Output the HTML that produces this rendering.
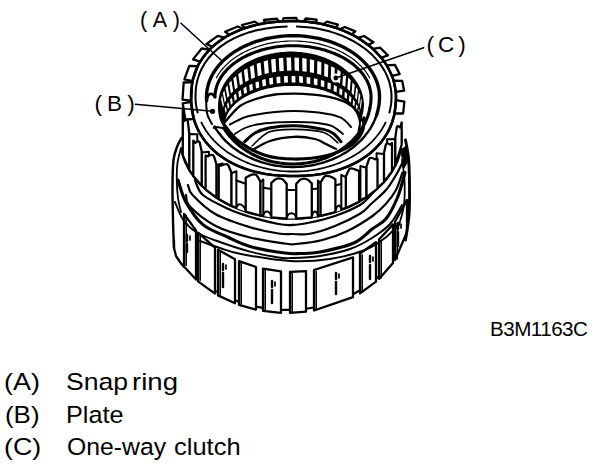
<!DOCTYPE html>
<html><head><meta charset="utf-8"><style>
html,body{margin:0;padding:0;background:#fff;}
body{width:608px;height:466px;position:relative;overflow:hidden;font-family:"Liberation Sans",sans-serif;color:#000;}
.t{position:absolute;white-space:pre;line-height:1;transform-origin:0 0;}
.lab{font-size:21.5px;letter-spacing:5.7px;}
.leg{font-size:24.5px;}
svg{position:absolute;left:0;top:0;}
</style></head><body>
<svg width="608" height="466" viewBox="0 0 608 466" stroke-linejoin="round" stroke-linecap="round">
<path d="M196.0,276.5 L198.0,278.3" fill="none" stroke="#000" stroke-width="2.16"/>
<path d="M215.0,290.6 L218.0,292.4" fill="none" stroke="#000" stroke-width="2.16"/>
<path d="M235.0,300.3 L239.0,301.8" fill="none" stroke="#000" stroke-width="2.16"/>
<path d="M256.0,306.6 L263.0,307.9" fill="none" stroke="#000" stroke-width="2.16"/>
<path d="M281.0,309.8 L290.0,309.9" fill="none" stroke="#000" stroke-width="2.16"/>
<path d="M306.0,308.7 L314.0,307.5" fill="none" stroke="#000" stroke-width="2.16"/>
<path d="M353.0,294.2 L360.0,290.3" fill="none" stroke="#000" stroke-width="2.16"/>
<path d="M376.0,278.7 L379.0,276.0" fill="none" stroke="#000" stroke-width="2.16"/>
<path d="M393.0,260.0 L395.0,257.0" fill="none" stroke="#000" stroke-width="2.16"/>
<path d="M184.0,214.0 L196.0,230.4 L196.0,279.5 L184.0,266.5 Z" fill="#fff" stroke="#000" stroke-width="2.28"/>
<path d="M186.2,215.5 L186.2,265.5" fill="none" stroke="#000" stroke-width="1.56"/>
<path d="M198.0,232.6 L215.0,247.6 L215.0,293.6 L198.0,281.3 Z" fill="#fff" stroke="#000" stroke-width="2.28"/>
<path d="M200.2,234.1 L200.2,280.3" fill="none" stroke="#000" stroke-width="1.56"/>
<path d="M218.0,249.7 L235.0,259.3 L235.0,303.3 L218.0,295.4 Z" fill="#fff" stroke="#000" stroke-width="2.28"/>
<path d="M220.2,251.2 L220.2,294.4" fill="none" stroke="#000" stroke-width="1.56"/>
<path d="M239.0,261.1 L256.0,267.0 L256.0,309.6 L239.0,304.8 Z" fill="#fff" stroke="#000" stroke-width="2.28"/>
<path d="M241.2,262.6 L241.2,303.8" fill="none" stroke="#000" stroke-width="1.56"/>
<path d="M263.0,268.7 L281.0,271.4 L281.0,312.8 L263.0,310.9 Z" fill="#fff" stroke="#000" stroke-width="2.28"/>
<path d="M265.2,270.2 L265.2,309.9" fill="none" stroke="#000" stroke-width="1.56"/>
<path d="M290.0,271.8 L306.0,271.1 L306.0,311.7 L290.0,312.9 Z" fill="#fff" stroke="#000" stroke-width="2.28"/>
<path d="M292.2,273.3 L292.2,311.9" fill="none" stroke="#000" stroke-width="1.56"/>
<path d="M314.0,270.0 L353.0,257.3 L353.0,297.2 L314.0,310.5 Z" fill="#fff" stroke="#000" stroke-width="2.28"/>
<path d="M316.2,271.5 L316.2,309.5" fill="none" stroke="#000" stroke-width="1.56"/>
<path d="M360.0,253.5 L376.0,242.1 L376.0,281.7 L360.0,293.3 Z" fill="#fff" stroke="#000" stroke-width="2.28"/>
<path d="M362.2,255.0 L362.2,292.3" fill="none" stroke="#000" stroke-width="1.56"/>
<path d="M379.0,239.5 L393.0,224.4 L393.0,263.0 L379.0,279.0 Z" fill="#fff" stroke="#000" stroke-width="2.28"/>
<path d="M381.2,241.0 L381.2,278.0" fill="none" stroke="#000" stroke-width="1.56"/>
<path d="M395.0,221.7 L407.0,199.9 L407.0,232.0 L395.0,260.0 Z" fill="#fff" stroke="#000" stroke-width="2.28"/>
<path d="M397.2,223.2 L397.2,259.0" fill="none" stroke="#000" stroke-width="1.56"/>
<path d="M174.0,240.0 L174.0,248.0 L176.0,256.0 L180.0,262.0 L184.0,267.0" fill="none" stroke="#000" stroke-width="2.28"/>
<path d="M187.0,235.0 L187.0,241.0" fill="none" stroke="#000" stroke-width="2.40"/>
<path d="M187.0,244.0 L187.0,252.0" fill="none" stroke="#000" stroke-width="2.40"/>
<path d="M190.0,236.0 L190.0,240.0" fill="none" stroke="#000" stroke-width="1.68"/>
<path d="M223.0,264.0 L223.0,270.0" fill="none" stroke="#000" stroke-width="2.40"/>
<path d="M223.0,273.0 L223.0,287.0" fill="none" stroke="#000" stroke-width="2.40"/>
<path d="M226.0,265.0 L226.0,269.0" fill="none" stroke="#000" stroke-width="1.68"/>
<path d="M272.0,281.0 L272.0,287.0" fill="none" stroke="#000" stroke-width="2.40"/>
<path d="M272.0,290.0 L272.0,303.0" fill="none" stroke="#000" stroke-width="2.40"/>
<path d="M275.0,282.0 L275.0,286.0" fill="none" stroke="#000" stroke-width="1.68"/>
<path d="M336.0,273.0 L336.0,279.0" fill="none" stroke="#000" stroke-width="2.40"/>
<path d="M336.0,282.0 L336.0,294.0" fill="none" stroke="#000" stroke-width="2.40"/>
<path d="M339.0,274.0 L339.0,278.0" fill="none" stroke="#000" stroke-width="1.68"/>
<path d="M370.0,256.0 L370.0,262.0" fill="none" stroke="#000" stroke-width="2.40"/>
<path d="M370.0,265.0 L370.0,279.0" fill="none" stroke="#000" stroke-width="2.40"/>
<path d="M373.0,257.0 L373.0,261.0" fill="none" stroke="#000" stroke-width="1.68"/>
<path d="M398.0,223.0 L398.0,229.0" fill="none" stroke="#000" stroke-width="2.40"/>
<path d="M398.0,232.0 L398.0,246.0" fill="none" stroke="#000" stroke-width="2.40"/>
<path d="M401.0,224.0 L401.0,228.0" fill="none" stroke="#000" stroke-width="1.68"/>
<path d="M195.0,180.0 C196.3,182.5 197.3,190.2 202.9,195.0 C208.5,199.8 220.9,205.4 228.6,209.0 C236.3,212.6 240.7,214.0 249.0,216.5 C257.3,219.0 271.3,222.6 278.5,224.0 C285.7,225.4 286.8,225.2 292.0,225.0 C297.2,224.8 302.8,224.0 310.0,222.5 C317.2,221.0 326.7,218.9 335.0,216.0 C343.3,213.1 354.2,208.3 360.0,205.0 C365.8,201.7 366.7,199.5 370.0,196.0 C373.3,192.5 378.3,186.0 380.0,184.0" fill="none" stroke="#000" stroke-width="2.28"/>
<path d="M188.0,185.0 C188.8,186.7 188.0,190.1 192.6,195.0 C197.2,199.9 206.1,208.9 215.7,214.3 C225.3,219.7 239.5,224.0 250.0,227.2 C260.5,230.4 271.5,232.4 278.5,233.5 C285.5,234.6 286.8,234.0 292.0,234.0 C297.2,234.0 302.8,235.1 310.0,233.8 C317.2,232.4 326.7,229.3 335.0,226.0 C343.3,222.7 354.0,217.4 360.0,213.8 C366.0,210.1 366.7,208.0 371.0,204.0 C375.3,200.0 381.8,194.8 386.0,190.0 C390.2,185.2 393.2,179.6 396.0,175.0 C398.8,170.4 401.4,164.6 402.5,162.5" fill="none" stroke="#000" stroke-width="2.16"/>
<path d="M186.0,195.0 C186.7,196.9 185.1,201.4 190.0,206.6 C194.9,211.8 205.7,220.8 215.7,226.0 C225.7,231.2 238.5,234.6 250.0,237.5 C261.5,240.4 277.1,242.4 284.8,243.5 C292.4,244.6 289.7,244.6 296.0,244.0 C302.3,243.4 313.9,242.2 322.5,240.0 C331.1,237.8 339.2,235.0 347.5,231.0 C355.8,227.0 366.1,220.5 372.5,216.0 C378.9,211.5 382.1,208.1 386.0,203.8 C389.9,199.4 393.2,195.2 396.0,190.0 C398.8,184.8 401.4,175.4 402.5,172.5" fill="none" stroke="#000" stroke-width="2.16"/>
<path d="M178.0,180.0 C179.3,183.7 181.7,194.6 185.8,202.0 C190.0,209.4 195.8,218.7 202.9,224.6 C210.0,230.5 220.8,233.8 228.6,237.5 C236.4,241.2 240.6,243.9 250.0,246.5 C259.4,249.1 276.4,251.8 284.8,253.0 C293.1,254.2 294.1,253.7 300.0,253.5 C305.9,253.3 311.0,253.8 320.0,252.0 C329.0,250.2 345.0,246.9 353.8,243.0 C362.5,239.1 367.1,232.8 372.5,228.8 C377.9,224.7 381.8,224.0 386.0,218.8 C390.2,213.5 394.3,205.2 397.5,197.5 C400.7,189.8 403.8,176.7 405.0,172.5" fill="none" stroke="#000" stroke-width="3.12"/>
<path d="M175.0,202.0 C176.3,204.9 179.5,214.5 183.0,219.5 C186.5,224.5 190.6,228.5 196.0,232.0 C201.4,235.5 206.7,237.2 215.7,240.5 C224.7,243.8 239.5,248.8 250.0,251.6 C260.5,254.4 271.5,256.4 278.5,257.5 C285.5,258.6 285.1,258.2 292.0,258.0 C298.9,257.8 310.3,257.5 320.0,256.0 C329.7,254.5 341.3,252.0 350.0,249.0 C358.7,246.0 365.3,242.2 372.0,238.0 C378.7,233.8 385.0,229.5 390.0,224.0 C395.0,218.5 400.0,208.2 402.0,205.0" fill="none" stroke="#000" stroke-width="1.92"/>
<path d="M200.0,241.0 C203.3,242.2 213.2,245.8 220.0,248.0 C226.8,250.2 229.3,251.8 241.0,254.0 C252.7,256.2 275.2,260.2 290.0,261.0 C304.8,261.8 317.5,260.8 330.0,259.0 C342.5,257.2 355.8,253.5 365.0,250.0 C374.2,246.5 379.5,242.2 385.0,238.0 C390.5,233.8 395.8,227.2 398.0,225.0" fill="none" stroke="#000" stroke-width="1.92"/>
<path d="M181.5,138.0 C180.8,139.5 178.3,143.3 177.0,147.0 C175.7,150.7 174.2,153.7 173.5,160.0 C172.8,166.3 172.6,175.0 172.5,185.0 C172.4,195.0 172.8,209.5 173.0,220.0 C173.2,230.5 173.8,243.3 174.0,248.0" fill="none" stroke="#000" stroke-width="2.40"/>
<path d="M181.0,148.0 C180.4,150.5 178.2,157.7 177.5,163.0 C176.8,168.3 176.7,174.2 176.8,180.0 C176.9,185.8 177.3,192.7 178.0,198.0 C178.7,203.3 180.5,209.7 181.0,212.0" fill="none" stroke="#000" stroke-width="1.80"/>
<path d="M405.5,140.0 C406.0,143.0 407.8,150.5 408.5,158.0 C409.2,165.5 409.4,175.5 409.5,185.0 C409.6,194.5 409.7,205.8 409.0,215.0 C408.3,224.2 406.1,235.8 405.5,240.0" fill="none" stroke="#000" stroke-width="2.88"/>
<path d="M401.0,150.0 L406.0,146.0 L409.0,160.0 L404.0,168.0 Z" fill="#000" stroke="#000" stroke-width="0.96"/>
<path d="M402.0,160.0 C402.4,163.3 404.2,172.5 404.5,180.0 C404.8,187.5 404.9,197.5 404.0,205.0 C403.1,212.5 399.8,221.7 399.0,225.0" fill="none" stroke="#000" stroke-width="1.80"/>
<path d="M181.2,148.9 L181.8,151.7 L182.5,154.5 L183.4,157.2 L184.4,160.0 L185.5,162.7 L186.8,165.3 L188.2,168.0 L189.7,170.6 L191.3,173.2 L193.1,175.7 L195.0,178.2 L197.0,180.6 L199.1,183.0 L201.3,185.3 L203.6,187.5 L206.1,189.7 L208.6,191.9 L211.3,193.9 L214.0,195.9 L216.8,197.9 L219.8,199.7 L222.8,201.5 L225.9,203.2 L229.0,204.8 L232.3,206.4 L235.6,207.8 L239.0,209.2 L242.4,210.5 L246.0,211.7 L249.5,212.8 L253.1,213.8 L256.8,214.7 L260.5,215.6 L264.2,216.3 L268.0,216.9 L271.8,217.5 L275.7,217.9 L279.5,218.3 L283.4,218.5 L287.2,218.7 L291.1,218.7 L295.0,218.7 L298.8,218.5 L302.7,218.3 L306.5,217.9 L310.4,217.5 L314.2,216.9 L318.0,216.3 L321.7,215.6 L325.4,214.7 L329.1,213.8 L332.7,212.8 L336.2,211.7 L339.8,210.5 L343.2,209.2 L346.6,207.8 L349.9,206.4 L353.2,204.8 L356.3,203.2 L359.4,201.5 L362.4,199.7 L365.4,197.9 L368.2,195.9 L370.9,193.9 L373.6,191.9 L376.1,189.7 L378.6,187.5 L380.9,185.3 L383.1,183.0 L385.2,180.6 L387.2,178.2 L389.1,175.7 L390.9,173.2 L392.5,170.6 L394.0,168.0 L395.4,165.3 L396.7,162.7 L397.8,160.0 L398.8,157.2 L399.7,154.5 L400.4,151.7 L401.0,148.9" fill="none" stroke="#000" stroke-width="2.28"/>
<path d="M395.3,138.9 L387.1,139.3 L387.1,177.3 L395.3,165.5 Z" fill="#fff" stroke="#000" stroke-width="2.04"/>
<path d="M395.3,165.5 L395.3,137.9 L396.7,127.6 Q397.3,124.8 400.3,127.6 L401.7,122.4 L401.7,144.5 Z" fill="#fff" stroke="#000" stroke-width="2.28"/>
<path d="M189.2,134.0 L197.3,134.3 L197.3,180.0 L189.2,169.8 Z" fill="#fff" stroke="#000" stroke-width="2.04"/>
<path d="M182.8,155.4 L182.8,108.2 L184.2,121.0 Q187.2,118.2 187.8,121.0 L189.2,133.0 L189.2,169.8 Z" fill="#fff" stroke="#000" stroke-width="2.28"/>
<path d="M384.0,153.9 L376.6,153.2 L376.6,188.3 L384.0,182.0 Z" fill="#fff" stroke="#000" stroke-width="2.04"/>
<path d="M384.0,182.0 L384.0,152.9 L385.8,144.7 Q386.6,141.9 390.2,144.7 L392.0,143.1 L392.0,171.4 Z" fill="#fff" stroke="#000" stroke-width="2.28"/>
<path d="M201.7,152.5 L208.9,151.7 L208.9,191.1 L201.7,185.7 Z" fill="#fff" stroke="#000" stroke-width="2.04"/>
<path d="M193.3,176.0 L193.3,140.6 L195.2,142.8 Q199.0,140.0 199.8,142.8 L201.7,151.5 L201.7,185.7 Z" fill="#fff" stroke="#000" stroke-width="2.28"/>
<path d="M216.4,165.1 L222.6,163.5 L222.6,200.4 L216.4,197.6 Z" fill="#fff" stroke="#000" stroke-width="2.04"/>
<path d="M205.6,189.3 L205.6,155.5 L208.0,156.3 Q212.9,153.5 214.0,156.3 L216.4,164.1 L216.4,197.6 Z" fill="#fff" stroke="#000" stroke-width="2.28"/>
<path d="M366.5,167.7 L360.4,166.0 L360.4,199.9 L366.5,197.1 Z" fill="#fff" stroke="#000" stroke-width="2.04"/>
<path d="M366.5,197.1 L366.5,166.7 L368.9,159.3 Q370.0,156.5 375.1,159.3 L377.5,159.0 L377.5,188.6 Z" fill="#fff" stroke="#000" stroke-width="2.28"/>
<path d="M231.3,173.3 L236.4,171.2 L236.4,207.2 L231.3,205.9 Z" fill="#fff" stroke="#000" stroke-width="2.04"/>
<path d="M218.7,199.1 L218.7,165.6 L221.5,165.5 Q227.3,162.7 228.5,165.5 L231.3,172.3 L231.3,205.9 Z" fill="#fff" stroke="#000" stroke-width="2.28"/>
<path d="M345.9,177.2 L341.3,174.9 L341.3,208.9 L345.9,208.1 Z" fill="#fff" stroke="#000" stroke-width="2.04"/>
<path d="M345.9,208.1 L345.9,176.2 L348.8,169.9 Q350.1,167.1 356.2,169.9 L359.1,170.8 L359.1,201.7 Z" fill="#fff" stroke="#000" stroke-width="2.28"/>
<path d="M260.3,182.3 L263.3,179.5 L263.3,215.1 L260.3,215.5 Z" fill="#fff" stroke="#000" stroke-width="2.04"/>
<path d="M245.7,211.6 L245.7,177.7 L248.9,175.9 Q255.6,173.1 257.1,175.9 L260.3,181.3 L260.3,215.5 Z" fill="#fff" stroke="#000" stroke-width="2.28"/>
<path d="M320.6,183.3 L317.9,180.5 L317.9,215.3 L320.6,215.8 Z" fill="#fff" stroke="#000" stroke-width="2.04"/>
<path d="M320.6,215.8 L320.6,182.3 L323.9,177.2 Q325.3,174.4 332.1,177.2 L335.4,179.4 L335.4,212.0 Z" fill="#fff" stroke="#000" stroke-width="2.28"/>
<path d="M271.3,217.4 L271.3,182.9 L274.7,179.8 Q279.0,177.0 283.3,179.8 L286.7,183.9 L286.7,218.6 Z" fill="#fff" stroke="#000" stroke-width="2.28"/>
<path d="M296.2,218.6 L296.2,184.0 L299.7,180.0 Q304.0,177.2 308.3,180.0 L311.8,183.3 L311.8,217.3 Z" fill="#fff" stroke="#000" stroke-width="2.28"/>
<path d="M236.4,180.5 L245.7,183.7" fill="none" stroke="#000" stroke-width="2.04"/>
<path d="M236.4,208.2 C237.4,201.2 244.7,204.6 245.7,211.6" fill="#fff" stroke="#000" stroke-width="2.04"/>
<path d="M263.3,187.8 L271.3,188.9" fill="none" stroke="#000" stroke-width="2.04"/>
<path d="M263.3,216.1 C264.3,209.1 270.3,210.4 271.3,217.4" fill="#fff" stroke="#000" stroke-width="2.04"/>
<path d="M286.7,189.9 L296.2,190.0" fill="none" stroke="#000" stroke-width="2.04"/>
<path d="M286.7,218.6 C287.7,211.6 295.2,211.6 296.2,218.6" fill="#fff" stroke="#000" stroke-width="2.04"/>
<path d="M311.8,189.3 L317.9,188.6" fill="none" stroke="#000" stroke-width="2.04"/>
<path d="M311.8,217.3 C312.8,210.3 316.9,209.3 317.9,216.3" fill="#fff" stroke="#000" stroke-width="2.04"/>
<path d="M335.4,185.4 L341.3,183.7" fill="none" stroke="#000" stroke-width="2.04"/>
<path d="M335.4,212.0 C336.4,205.0 340.3,202.9 341.3,209.9" fill="#fff" stroke="#000" stroke-width="2.04"/>
<path d="M396.0,97.0 L395.9,94.3 L395.8,91.7 L395.4,89.1 L395.0,86.4 L394.4,83.8 L393.8,81.2 L393.0,78.6 L392.0,76.1 L391.0,73.5 L389.8,71.0 L388.5,68.5 L387.1,66.1 L385.6,63.7 L384.0,61.3 L382.3,59.0 L380.4,56.7 L378.5,54.5 L376.4,52.3 L374.3,50.2 L372.0,48.1 L369.7,46.1 L367.2,44.2 L364.7,42.3 L362.1,40.5 L359.4,38.8 L356.6,37.1 L353.7,35.5 L350.8,34.0 L347.8,32.5 L344.8,31.2 L341.6,29.9 L338.4,28.7 L335.2,27.6 L331.9,26.5 L328.6,25.6 L325.2,24.7 L321.8,23.9 L318.3,23.3 L314.8,22.7 L311.3,22.2 L307.8,21.7 L304.2,21.4 L300.7,21.2 L297.1,21.0 L293.5,21.0 L288.6,21.0 L284.4,21.2 L280.3,21.4 L276.4,21.7 L272.6,22.1 L268.9,22.5 L265.3,23.1 L261.7,23.7 L258.3,24.4 L254.9,25.2 L251.5,26.0 L248.3,27.0 L245.1,28.0 L242.0,29.1 L238.9,30.3 L236.0,31.6 L233.1,32.9 L230.3,34.3 L227.5,35.8 L224.9,37.4 L222.4,39.0 L219.9,40.7 L217.5,42.4 L215.2,44.3 L213.1,46.1 L211.0,48.1 L209.0,50.1 L207.1,52.2 L205.3,54.3 L203.6,56.5 L202.0,58.8 L200.5,61.1 L199.1,63.5 L197.8,65.9 L196.6,68.3 L195.6,70.9 L194.6,73.4 L193.8,76.1 L193.0,78.8 L192.4,81.5 L191.9,84.3 L191.5,87.2 L191.2,90.2 L191.1,93.4 L191.0,97.0 L191.1,100.7 L191.2,104.0 L191.5,107.1 L191.9,110.2 L192.4,113.1 L193.0,115.9 L193.8,118.7 L194.6,121.5 L195.6,124.2 L196.6,126.8 L197.8,129.4 L199.1,131.9 L200.5,134.3 L202.0,136.7 L203.6,139.1 L205.3,141.4 L207.1,143.6 L209.0,145.7 L211.0,147.8 L213.1,149.9 L215.2,151.8 L217.5,153.7 L219.9,155.6 L222.4,157.3 L224.9,159.0 L227.5,160.6 L230.3,162.2 L233.1,163.6 L236.0,165.0 L238.9,166.3 L242.0,167.5 L245.1,168.7 L248.3,169.8 L251.5,170.8 L254.9,171.7 L258.3,172.5 L261.7,173.2 L265.3,173.9 L268.9,174.4 L272.6,174.9 L276.4,175.3 L280.3,175.6 L284.4,175.8 L288.6,176.0 L293.5,176.0 L298.4,176.0 L302.6,175.8 L306.7,175.6 L310.6,175.3 L314.4,174.9 L318.1,174.4 L321.7,173.9 L325.3,173.2 L328.7,172.5 L332.1,171.7 L335.5,170.8 L338.7,169.8 L341.9,168.7 L345.0,167.5 L348.1,166.3 L351.0,165.0 L353.9,163.6 L356.7,162.2 L359.5,160.6 L362.1,159.0 L364.6,157.3 L367.1,155.6 L369.5,153.7 L371.8,151.8 L373.9,149.9 L376.0,147.8 L378.0,145.7 L379.9,143.6 L381.7,141.4 L383.4,139.1 L385.0,136.7 L386.5,134.3 L387.9,131.9 L389.2,129.4 L390.4,126.8 L391.4,124.2 L392.4,121.5 L393.2,118.7 L394.0,115.9 L394.6,113.1 L395.1,110.2 L395.5,107.1 L395.8,104.0 L395.9,100.7 L396.0,97.0 Z" fill="#fff" stroke="#000" stroke-width="2.40"/>
<path d="M193.8,119.0 L185.3,119.3 L182.7,103.3 L191.1,101.8 Z" fill="#fff" stroke="#000" stroke-width="2.28"/>
<path d="M191.1,100.7 L182.5,99.7 L183.7,82.5 L192.3,82.1 Z" fill="#fff" stroke="#000" stroke-width="2.28"/>
<path d="M192.5,81.0 L184.4,79.3 L189.3,65.8 L197.7,66.1 Z" fill="#fff" stroke="#000" stroke-width="2.28"/>
<path d="M200.1,61.6 L193.0,59.4 L201.7,48.5 L209.4,49.7 Z" fill="#fff" stroke="#000" stroke-width="2.28"/>
<path d="M212.4,46.7 L206.5,44.0 L217.7,35.9 L224.4,37.7 Z" fill="#fff" stroke="#000" stroke-width="2.28"/>
<path d="M229.3,34.8 L225.1,31.8 L237.6,26.5 L243.0,28.8 Z" fill="#fff" stroke="#000" stroke-width="2.28"/>
<path d="M244.8,28.1 L241.9,25.0 L254.8,21.6 L258.9,24.2 Z" fill="#fff" stroke="#000" stroke-width="2.28"/>
<path d="M264.9,23.1 L263.9,20.0 L276.6,18.6 L279.2,21.5 Z" fill="#fff" stroke="#000" stroke-width="2.28"/>
<path d="M282.8,21.2 L283.5,18.2 L296.3,18.0 L297.4,21.1 Z" fill="#fff" stroke="#000" stroke-width="2.28"/>
<path d="M303.6,21.4 L305.8,18.5 L316.7,19.7 L316.1,22.9 Z" fill="#fff" stroke="#000" stroke-width="2.28"/>
<path d="M323.3,24.3 L327.0,21.7 L338.0,24.6 L335.7,27.7 Z" fill="#fff" stroke="#000" stroke-width="2.28"/>
<path d="M339.8,29.2 L344.8,27.0 L355.3,31.4 L351.6,34.4 Z" fill="#fff" stroke="#000" stroke-width="2.28"/>
<path d="M357.7,37.8 L364.1,36.0 L373.5,42.2 L368.2,45.0 Z" fill="#fff" stroke="#000" stroke-width="2.28"/>
<path d="M372.8,48.8 L380.2,47.7 L387.9,55.4 L381.3,57.8 Z" fill="#fff" stroke="#000" stroke-width="2.28"/>
<path d="M386.7,65.3 L394.9,64.9 L399.7,74.1 L392.0,75.9 Z" fill="#fff" stroke="#000" stroke-width="2.28"/>
<path d="M393.6,80.6 L402.2,80.9 L404.1,90.7 L395.8,91.8 Z" fill="#fff" stroke="#000" stroke-width="2.28"/>
<path d="M396.0,100.2 L404.4,101.7 L403.1,113.5 L394.5,113.5 Z" fill="#fff" stroke="#000" stroke-width="2.28"/>
<path d="M396.0,97.0 L395.9,94.3 L395.8,91.7 L395.4,89.1 L395.0,86.4 L394.4,83.8 L393.8,81.2 L393.0,78.6 L392.0,76.1 L391.0,73.5 L389.8,71.0 L388.5,68.5 L387.1,66.1 L385.6,63.7 L384.0,61.3 L382.3,59.0 L380.4,56.7 L378.5,54.5 L376.4,52.3 L374.3,50.2 L372.0,48.1 L369.7,46.1 L367.2,44.2 L364.7,42.3 L362.1,40.5 L359.4,38.8 L356.6,37.1 L353.7,35.5 L350.8,34.0 L347.8,32.5 L344.8,31.2 L341.6,29.9 L338.4,28.7 L335.2,27.6 L331.9,26.5 L328.6,25.6 L325.2,24.7 L321.8,23.9 L318.3,23.3 L314.8,22.7 L311.3,22.2 L307.8,21.7 L304.2,21.4 L300.7,21.2 L297.1,21.0 L293.5,21.0 L288.6,21.0 L284.4,21.2 L280.3,21.4 L276.4,21.7 L272.6,22.1 L268.9,22.5 L265.3,23.1 L261.7,23.7 L258.3,24.4 L254.9,25.2 L251.5,26.0 L248.3,27.0 L245.1,28.0 L242.0,29.1 L238.9,30.3 L236.0,31.6 L233.1,32.9 L230.3,34.3 L227.5,35.8 L224.9,37.4 L222.4,39.0 L219.9,40.7 L217.5,42.4 L215.2,44.3 L213.1,46.1 L211.0,48.1 L209.0,50.1 L207.1,52.2 L205.3,54.3 L203.6,56.5 L202.0,58.8 L200.5,61.1 L199.1,63.5 L197.8,65.9 L196.6,68.3 L195.6,70.9 L194.6,73.4 L193.8,76.1 L193.0,78.8 L192.4,81.5 L191.9,84.3 L191.5,87.2 L191.2,90.2 L191.1,93.4 L191.0,97.0 L191.1,100.7 L191.2,104.0 L191.5,107.1 L191.9,110.2 L192.4,113.1 L193.0,115.9 L193.8,118.7 L194.6,121.5 L195.6,124.2 L196.6,126.8 L197.8,129.4 L199.1,131.9 L200.5,134.3 L202.0,136.7 L203.6,139.1 L205.3,141.4 L207.1,143.6 L209.0,145.7 L211.0,147.8 L213.1,149.9 L215.2,151.8 L217.5,153.7 L219.9,155.6 L222.4,157.3 L224.9,159.0 L227.5,160.6 L230.3,162.2 L233.1,163.6 L236.0,165.0 L238.9,166.3 L242.0,167.5 L245.1,168.7 L248.3,169.8 L251.5,170.8 L254.9,171.7 L258.3,172.5 L261.7,173.2 L265.3,173.9 L268.9,174.4 L272.6,174.9 L276.4,175.3 L280.3,175.6 L284.4,175.8 L288.6,176.0 L293.5,176.0 L298.4,176.0 L302.6,175.8 L306.7,175.6 L310.6,175.3 L314.4,174.9 L318.1,174.4 L321.7,173.9 L325.3,173.2 L328.7,172.5 L332.1,171.7 L335.5,170.8 L338.7,169.8 L341.9,168.7 L345.0,167.5 L348.1,166.3 L351.0,165.0 L353.9,163.6 L356.7,162.2 L359.5,160.6 L362.1,159.0 L364.6,157.3 L367.1,155.6 L369.5,153.7 L371.8,151.8 L373.9,149.9 L376.0,147.8 L378.0,145.7 L379.9,143.6 L381.7,141.4 L383.4,139.1 L385.0,136.7 L386.5,134.3 L387.9,131.9 L389.2,129.4 L390.4,126.8 L391.4,124.2 L392.4,121.5 L393.2,118.7 L394.0,115.9 L394.6,113.1 L395.1,110.2 L395.5,107.1 L395.8,104.0 L395.9,100.7 L396.0,97.0" fill="none" stroke="#000" stroke-width="2.52"/>
<path d="M389.4,112.5 L390.0,109.9 L390.5,107.4 L391.0,104.8 L391.3,102.2 L391.4,99.6 L391.5,97.0 L391.4,94.5 L391.3,92.1 L391.0,89.6 L390.5,87.2 L390.0,84.8 L389.4,82.3 L388.6,79.9 L387.7,77.6 L386.7,75.2 L385.6,72.9 L384.4,70.6 L383.0,68.3 L381.6,66.1 L380.0,63.9 L378.4,61.8 L376.6,59.6 L374.7,57.6 L372.8,55.6 L370.7,53.6 L368.6,51.7 L366.3,49.8 L364.0,48.0 L361.6,46.3 L359.1,44.6 L356.5,43.0 L353.8,41.4 L351.1,40.0 L348.3,38.6 L345.4,37.2 L342.5,35.9 L339.5,34.8 L336.5,33.6 L333.4,32.6 L330.2,31.6 L327.0,30.8 L323.8,30.0 L320.5,29.2 L317.2,28.6 L313.9,28.0 L310.5,27.6 L307.1,27.2 L303.7,26.9 L300.3,26.7 L296.9,26.5" fill="none" stroke="#000" stroke-width="2.04"/>
<path d="M286.8,26.6 L282.8,26.7 L279.0,27.0 L275.2,27.3 L271.6,27.7 L268.1,28.2 L264.6,28.7 L261.2,29.4 L257.9,30.1 L254.7,30.8 L251.5,31.7 L248.4,32.6 L245.3,33.6 L242.4,34.7 L239.5,35.9 L236.7,37.1 L233.9,38.4 L231.3,39.8 L228.7,41.2 L226.2,42.7 L223.8,44.3 L221.5,45.9 L219.3,47.6 L217.1,49.4 L215.1,51.2 L213.1,53.0 L211.3,55.0 L209.5,57.0 L207.9,59.0 L206.3,61.1 L204.8,63.3 L203.5,65.5 L202.2,67.7 L201.1,70.0 L200.0,72.4 L199.1,74.8 L198.3,77.3 L197.5,79.8 L196.9,82.4 L196.4,85.0 L196.0,87.7 L195.7,90.5 L195.6,93.4 L195.5,96.7 L195.6,99.5 L195.7,102.1 L196.0,104.7 L196.4,107.3 L197.0,109.9 L197.6,112.5" fill="none" stroke="#000" stroke-width="2.04"/>
<path d="M201.4,122.5 L202.6,124.9 L204.0,127.3 L205.4,129.7 L207.0,132.0 L208.6,134.2 L210.4,136.5 L212.3,138.7 L214.2,140.8 L216.3,142.9 L218.4,144.9 L220.7,146.9 L223.0,148.8 L225.4,150.6 L227.9,152.4 L230.5,154.1 L233.2,155.7 L235.9,157.3 L238.7,158.8 L241.6,160.2 L244.5,161.5 L247.5,162.8 L250.5,164.0 L253.6,165.1 L256.8,166.1 L260.0,167.0 L263.2,167.9 L266.5,168.6 L269.8,169.3 L273.1,169.9 L276.5,170.4 L279.9,170.8 L283.3,171.1 L286.7,171.3 L290.1,171.5 L293.5,171.5 L296.9,171.5 L300.3,171.3 L303.7,171.1 L307.1,170.8 L310.5,170.4 L313.9,169.9 L317.2,169.3 L320.5,168.6 L323.8,167.9 L327.0,167.0 L330.2,166.1 L333.4,165.1 L336.5,164.0 L339.5,162.8 L342.5,161.5 L345.4,160.2 L348.3,158.8 L351.1,157.3 L353.8,155.7 L356.5,154.1 L359.1,152.4 L361.6,150.6 L364.0,148.8 L366.3,146.9 L368.6,144.9 L370.7,142.9 L372.8,140.8 L374.7,138.7 L376.6,136.5 L378.4,134.3 L380.0,132.0 L381.6,129.7 L383.0,127.3 L384.4,124.9 L385.6,122.5" fill="none" stroke="#000" stroke-width="1.80"/>
<path d="M376.6,115.1 L377.3,112.7 L377.9,110.4 L378.4,108.0 L378.9,105.5 L379.2,103.1 L379.4,100.7 L379.5,98.2 L379.5,95.9 L379.4,93.8 L379.2,91.7 L378.9,89.5 L378.4,87.4 L377.9,85.3 L377.3,83.2 L376.6,81.1 L375.7,79.1 L374.8,77.0 L373.8,75.0 L372.6,73.0 L371.4,71.1 L370.1,69.2 L368.7,67.3 L367.1,65.4 L365.5,63.6 L363.9,61.8 L362.1,60.1 L360.2,58.4 L358.3,56.8 L356.3,55.2 L354.2,53.7 L352.0,52.2 L349.7,50.7 L347.4,49.4 L345.1,48.0 L342.6,46.8 L340.1,45.6 L337.6,44.5 L334.9,43.4 L332.3,42.4 L329.6,41.4 L326.8,40.6 L324.0,39.8 L321.2,39.0 L318.3,38.4 L315.4,37.8 L312.5,37.3 L309.5,36.8 L306.5,36.5 L303.5,36.2 L300.5,35.9 L297.5,35.8 L294.5,35.7 L291.5,35.7 L288.5,35.8 L285.5,35.9 L282.5,36.2 L279.5,36.5 L276.5,36.8 L273.5,37.3 L270.6,37.8 L267.7,38.4 L264.8,39.0 L262.0,39.8 L259.2,40.6 L256.4,41.4 L253.7,42.4 L251.1,43.4 L248.4,44.5 L245.9,45.6 L243.4,46.8 L240.9,48.0 L238.6,49.4 L236.3,50.7 L234.0,52.2 L231.8,53.7 L229.7,55.2 L227.7,56.8 L225.8,58.4 L223.9,60.1 L222.1,61.8 L220.5,63.6 L218.9,65.4 L217.3,67.3 L215.9,69.2 L214.6,71.1 L213.4,73.0 L212.2,75.0 L211.2,77.0 L210.3,79.1 L209.4,81.1 L208.7,83.2 L208.1,85.3 L207.6,87.4 L207.1,89.5 L206.8,91.7 L206.6,93.8 L206.5,95.9 L206.5,98.2 L206.6,100.7" fill="none" stroke="#000" stroke-width="3.36"/>
<path d="M369.8,108.6 L370.2,106.3 L370.6,104.0 L370.8,101.7 L371.0,99.3 L371.0,97.0 L371.0,95.2 L370.8,93.4 L370.6,91.6 L370.2,89.9 L369.8,88.1 L369.3,86.3 L368.7,84.6 L368.0,82.9 L367.2,81.1 L366.3,79.5 L365.3,77.8 L364.3,76.1 L363.1,74.5 L361.9,72.9 L360.5,71.4 L359.1,69.8 L357.7,68.3 L356.1,66.8 L354.5,65.4 L352.8,64.0 L351.0,62.7 L349.1,61.4 L347.2,60.1 L345.2,58.9 L343.1,57.7 L341.0,56.6 L338.8,55.5 L336.6,54.5 L334.3,53.5 L332.0,52.6 L329.6,51.7 L327.2,50.9 L324.7,50.1 L322.2,49.4 L319.7,48.8 L317.1,48.2 L314.5,47.7 L311.9,47.2 L309.2,46.8 L306.5,46.5 L303.9,46.2 L301.2,46.0 L298.4,45.8 L295.7,45.7 L293.0,45.7 L290.3,45.7 L287.6,45.8 L284.8,46.0 L282.1,46.2 L279.5,46.5 L276.8,46.8 L274.1,47.2 L271.5,47.7 L268.9,48.2 L266.3,48.8 L263.8,49.4 L261.3,50.1 L258.8,50.9 L256.4,51.7 L254.0,52.6 L251.7,53.5 L249.4,54.5 L247.2,55.5 L245.0,56.6 L242.9,57.7 L240.8,58.9 L238.8,60.1 L236.9,61.4 L235.0,62.7 L233.2,64.0 L231.5,65.4 L229.9,66.8 L228.3,68.3 L226.9,69.8 L225.5,71.4 L224.1,72.9 L222.9,74.5 L221.7,76.1 L220.7,77.8 L219.7,79.5 L218.8,81.1 L218.0,82.9 L217.3,84.6 L216.7,86.3 L216.2,88.1 L215.8,89.9 L215.4,91.6 L215.2,93.4 L215.0,95.2 L215.0,97.0" fill="none" stroke="#000" stroke-width="3.12"/>
<path d="M206.6,100.7 C206.9,99.7 207.6,96.1 208.5,95.0 C209.4,93.9 210.9,93.7 212.0,94.0 C213.1,94.3 214.5,96.5 215.0,97.0" fill="none" stroke="#000" stroke-width="2.64"/>
<path d="M214.6,126.6 L215.9,128.8 L217.3,130.9 L218.9,133.1 L220.5,135.1 L222.1,137.2 L223.9,139.1 L225.8,141.1 L227.7,142.9 L229.7,144.7 L231.8,146.5 L234.0,148.2 L236.3,149.8 L238.6,151.4 L240.9,152.9 L243.4,154.3 L245.9,155.7 L248.4,157.0 L251.1,158.2 L253.7,159.4 L256.4,160.4 L259.2,161.4 L262.0,162.4 L264.8,163.2 L267.7,163.9 L270.6,164.6 L273.5,165.2 L276.5,165.7 L279.5,166.1 L282.5,166.5 L285.5,166.7 L288.5,166.9 L291.5,167.0 L294.5,167.0 L297.5,166.9 L300.5,166.7 L303.5,166.5 L306.5,166.1 L309.5,165.7 L312.5,165.2 L315.4,164.6 L318.3,163.9 L321.2,163.2 L324.0,162.4 L326.8,161.4 L329.6,160.4 L332.3,159.4 L334.9,158.2 L337.6,157.0 L340.1,155.7 L342.6,154.3 L345.1,152.9 L347.4,151.4 L349.7,149.8 L352.0,148.2 L354.2,146.5 L356.3,144.7 L358.3,142.9 L360.2,141.1 L362.1,139.1 L363.9,137.2 L365.5,135.1 L367.1,133.1 L368.7,130.9 L370.1,128.8 L371.4,126.6 L372.6,124.4 L373.8,122.1 L374.8,119.8 L375.7,117.5 L376.6,115.1" fill="none" stroke="#000" stroke-width="2.40"/>
<path d="M224.1,128.5 L225.5,130.5 L226.9,132.5 L228.3,134.5 L229.9,136.4 L231.5,138.2 L233.2,140.1 L235.0,141.8 L236.9,143.5 L238.8,145.2 L240.8,146.8 L242.9,148.3 L245.0,149.8 L247.2,151.2 L249.4,152.5 L251.7,153.8 L254.0,155.0 L256.4,156.2 L258.8,157.2 L261.3,158.2 L263.8,159.1 L266.3,160.0 L268.9,160.7 L271.5,161.4 L274.1,162.0 L276.8,162.5 L279.5,163.0 L282.1,163.3 L284.8,163.6 L287.6,163.8 L290.3,164.0 L293.0,164.0 L295.7,164.0 L298.4,163.8 L301.2,163.6 L303.9,163.3 L306.5,163.0 L309.2,162.5 L311.9,162.0 L314.5,161.4 L317.1,160.7 L319.7,160.0 L322.2,159.1 L324.7,158.2 L327.2,157.2 L329.6,156.2 L332.0,155.0 L334.3,153.8 L336.6,152.5 L338.8,151.2 L341.0,149.8 L343.1,148.3 L345.2,146.8 L347.2,145.2 L349.1,143.5 L351.0,141.8 L352.8,140.1 L354.5,138.2 L356.1,136.4 L357.7,134.5 L359.1,132.5 L360.5,130.5 L361.9,128.5 L363.1,126.4 L364.3,124.3 L365.3,122.1 L366.3,119.9 L367.2,117.7 L368.0,115.5 L368.7,113.2 L369.3,110.9 L369.8,108.6" fill="none" stroke="#000" stroke-width="3.12"/>
<path d="M214.6,126.6 C214.5,126.8 213.6,127.9 214.0,128.0 C214.4,128.1 215.3,126.9 217.0,127.0 C218.7,127.1 222.9,128.2 224.1,128.5" fill="none" stroke="#000" stroke-width="2.16"/>
<path d="M206.5,96.0 C206.5,97.7 206.1,102.8 206.3,106.0 C206.5,109.2 206.6,112.0 207.5,115.0 C208.4,118.0 211.2,122.5 212.0,124.0" fill="none" stroke="#000" stroke-width="2.04"/>
<path d="M369.6,77.8 L368.6,76.0 L367.5,74.2 L366.3,72.5 L365.0,70.7 L363.6,69.0 L362.1,67.3 L360.6,65.7 L358.9,64.1 L357.2,62.5 L355.4,61.0 L353.6,59.5 L351.6,58.1 L349.6,56.7 L347.5,55.4 L345.4,54.1 L343.2,52.9 L340.9,51.7 L338.6,50.6 L336.2,49.5 L333.8,48.5 L331.3,47.6 L328.7,46.7 L326.1,45.8 L323.5,45.1 L320.9,44.4 L318.2,43.7 L315.5,43.2 L312.7,42.7 L309.9,42.2 L307.2,41.9 L304.3,41.5 L301.5,41.3 L298.7,41.1 L295.8,41.0 L293.0,41.0 L290.2,41.0 L287.3,41.1 L284.5,41.3 L281.7,41.5 L278.8,41.9 L276.1,42.2 L273.3,42.7 L270.5,43.2 L267.8,43.7 L265.1,44.4 L262.5,45.1 L259.9,45.8 L257.3,46.7 L254.7,47.6 L252.3,48.5 L249.8,49.5 L247.4,50.6 L245.1,51.7 L242.8,52.9 L240.6,54.1 L238.5,55.4 L236.4,56.7 L234.4,58.1 L232.4,59.5 L230.6,61.0 L228.8,62.5 L227.1,64.1 L225.4,65.7 L223.9,67.3 L222.4,69.0 L221.0,70.7 L219.7,72.5 L218.5,74.2 L217.4,76.0 L216.4,77.8" fill="none" stroke="#000" stroke-width="1.20"/>
<path d="M361.4,115.4 L361.9,113.7 L362.3,112.0 L362.6,110.2 L362.8,108.5 L363.0,106.7 L363.0,105.0 L363.0,103.2 L362.8,101.3 L362.6,99.5 L362.3,97.7 L361.9,95.9 L361.4,94.1 L360.9,92.3 L360.2,90.5 L359.5,88.8 L358.7,87.0 L357.8,85.3 L356.8,83.6 L355.7,82.0 L354.6,80.4 L353.4,78.8 L352.1,77.2 L350.7,75.6 L349.2,74.1 L347.7,72.7 L346.2,71.3 L344.5,69.9 L342.8,68.5 L341.0,67.2 L339.2,66.0 L337.3,64.8 L335.3,63.6 L333.3,62.5 L331.3,61.5 L329.2,60.5 L327.0,59.5 L324.8,58.6 L322.6,57.8 L320.3,57.0 L318.0,56.3 L315.6,55.7 L313.2,55.1 L310.8,54.5 L308.4,54.1 L306.0,53.6 L303.5,53.3 L301.0,53.0 L298.5,52.8 L296.0,52.6 L293.5,52.5 L291.0,52.5 L288.5,52.5 L286.0,52.6 L283.5,52.8 L281.0,53.0 L278.5,53.3 L276.0,53.6 L273.6,54.1 L271.2,54.5 L268.8,55.1 L266.4,55.7 L264.0,56.3 L261.7,57.0 L259.4,57.8 L257.2,58.6 L255.0,59.5 L252.8,60.5 L250.7,61.5 L248.7,62.5 L246.7,63.6 L244.7,64.8 L242.8,66.0 L241.0,67.2 L239.2,68.5 L237.5,69.9 L235.8,71.3 L234.3,72.7 L232.8,74.1 L231.3,75.6 L229.9,77.2 L228.6,78.8 L227.4,80.4 L226.3,82.0 L225.2,83.6 L224.2,85.3 L223.3,87.0 L222.5,88.8 L221.8,90.5 L221.1,92.3 L220.6,94.1 L220.1,95.9 L219.7,97.7 L219.4,99.5 L219.2,101.3 L219.0,103.2 L219.0,105.0 L219.0,106.7 L219.2,108.5 L219.4,110.2 L219.7,112.0 L220.1,113.7 L220.6,115.4 L225.5,131.2 L225.0,130.2 L224.7,129.2 L224.4,128.1 L224.2,127.1 L224.0,126.0 L224.0,125.0 L224.0,123.6 L224.2,122.2 L224.4,120.8 L224.7,119.4 L225.0,118.1 L225.5,116.7 L226.0,115.3 L226.6,114.0 L227.3,112.6 L228.1,111.3 L229.0,110.0 L229.9,108.7 L230.9,107.5 L232.0,106.2 L233.1,105.0 L234.3,103.8 L235.6,102.6 L237.0,101.5 L238.4,100.4 L239.9,99.3 L241.5,98.2 L243.1,97.2 L244.8,96.2 L246.5,95.3 L248.3,94.4 L250.1,93.5 L252.0,92.6 L254.0,91.8 L256.0,91.1 L258.0,90.4 L260.1,89.7 L262.2,89.0 L264.3,88.5 L266.5,87.9 L268.7,87.4 L271.0,87.0 L273.3,86.5 L275.5,86.2 L277.9,85.9 L280.2,85.6 L282.5,85.4 L284.9,85.2 L287.3,85.1 L289.6,85.0 L292.0,85.0 L294.4,85.0 L296.7,85.1 L299.1,85.2 L301.5,85.4 L303.8,85.6 L306.1,85.9 L308.5,86.2 L310.7,86.5 L313.0,87.0 L315.3,87.4 L317.5,87.9 L319.7,88.5 L321.8,89.0 L323.9,89.7 L326.0,90.4 L328.0,91.1 L330.0,91.8 L332.0,92.6 L333.9,93.5 L335.7,94.4 L337.5,95.3 L339.2,96.2 L340.9,97.2 L342.5,98.2 L344.1,99.3 L345.6,100.4 L347.0,101.5 L348.4,102.6 L349.7,103.8 L350.9,105.0 L352.0,106.2 L353.1,107.5 L354.1,108.7 L355.0,110.0 L355.9,111.3 L356.7,112.6 L357.4,114.0 L358.0,115.3 L358.5,116.7 L359.0,118.1 L359.3,119.4 L359.6,120.8 L359.8,122.2 L360.0,123.6 L360.0,125.0 L360.0,126.0 L359.8,127.1 L359.6,128.1 L359.3,129.2 L359.0,130.2 L358.5,131.2 Z" fill="#000" stroke="#000" stroke-width="1.80"/>
<path d="M361.8,100.9 L361.0,97.7 L359.9,106.8 L360.6,109.6 Z" fill="#fff" stroke="#000" stroke-width="0.01"/>
<path d="M360.3,95.4 L359.0,92.4 L357.9,102.0 L359.1,104.7 Z" fill="#fff" stroke="#000" stroke-width="0.01"/>
<path d="M357.9,90.1 L356.2,87.2 L355.1,97.3 L356.8,100.0 Z" fill="#fff" stroke="#000" stroke-width="0.01"/>
<path d="M354.7,85.0 L352.5,82.3 L351.6,92.9 L353.7,95.4 Z" fill="#fff" stroke="#000" stroke-width="0.01"/>
<path d="M350.7,80.2 L348.2,77.6 L347.3,88.7 L349.8,91.1 Z" fill="#fff" stroke="#000" stroke-width="0.01"/>
<path d="M346.1,75.8 L343.1,73.4 L342.3,84.9 L345.2,87.1 Z" fill="#fff" stroke="#000" stroke-width="0.01"/>
<path d="M340.7,71.7 L337.4,69.6 L336.8,81.5 L340.0,83.4 Z" fill="#fff" stroke="#000" stroke-width="0.01"/>
<path d="M334.8,68.1 L331.2,66.2 L330.7,78.4 L334.2,80.1 Z" fill="#fff" stroke="#000" stroke-width="0.01"/>
<path d="M328.3,64.9 L324.4,63.3 L324.1,75.9 L327.9,77.3 Z" fill="#fff" stroke="#000" stroke-width="0.01"/>
<path d="M321.4,62.3 L317.3,61.0 L317.1,73.8 L321.2,74.9 Z" fill="#fff" stroke="#000" stroke-width="0.01"/>
<path d="M314.2,60.2 L309.9,59.3 L309.9,72.2 L314.0,73.0 Z" fill="#fff" stroke="#000" stroke-width="0.01"/>
<path d="M306.6,58.7 L302.2,58.1 L302.4,71.2 L306.7,71.7 Z" fill="#fff" stroke="#000" stroke-width="0.01"/>
<path d="M298.9,57.8 L294.4,57.6 L294.7,70.6 L299.1,70.9 Z" fill="#fff" stroke="#000" stroke-width="0.01"/>
<path d="M291.0,57.5 L286.5,57.6 L287.1,70.7 L291.4,70.6 Z" fill="#fff" stroke="#000" stroke-width="0.01"/>
<path d="M283.2,57.8 L278.8,58.3 L279.4,71.3 L283.8,70.9 Z" fill="#fff" stroke="#000" stroke-width="0.01"/>
<path d="M275.5,58.7 L271.1,59.5 L272.0,72.4 L276.2,71.7 Z" fill="#fff" stroke="#000" stroke-width="0.01"/>
<path d="M267.9,60.3 L263.7,61.4 L264.7,74.1 L268.8,73.1 Z" fill="#fff" stroke="#000" stroke-width="0.01"/>
<path d="M260.6,62.4 L256.7,63.8 L257.8,76.3 L261.7,75.0 Z" fill="#fff" stroke="#000" stroke-width="0.01"/>
<path d="M253.7,65.0 L250.0,66.8 L251.3,78.9 L255.0,77.4 Z" fill="#fff" stroke="#000" stroke-width="0.01"/>
<path d="M247.3,68.2 L243.9,70.2 L245.3,82.0 L248.7,80.2 Z" fill="#fff" stroke="#000" stroke-width="0.01"/>
<path d="M241.4,71.8 L238.3,74.1 L239.9,85.6 L242.9,83.5 Z" fill="#fff" stroke="#000" stroke-width="0.01"/>
<path d="M236.1,75.9 L233.3,78.4 L235.0,89.4 L237.7,87.2 Z" fill="#fff" stroke="#000" stroke-width="0.01"/>
<path d="M231.4,80.4 L229.1,83.1 L230.9,93.6 L233.2,91.2 Z" fill="#fff" stroke="#000" stroke-width="0.01"/>
<path d="M227.5,85.2 L225.6,88.1 L227.5,98.1 L229.3,95.5 Z" fill="#fff" stroke="#000" stroke-width="0.01"/>
<path d="M224.3,90.3 L222.9,93.3 L224.8,102.8 L226.2,100.1 Z" fill="#fff" stroke="#000" stroke-width="0.01"/>
<path d="M222.0,95.6 L221.0,98.7 L223.0,107.7 L223.9,104.9 Z" fill="#fff" stroke="#000" stroke-width="0.01"/>
<path d="M359.5,110.8 L358.6,108.4 L358.0,113.1 L358.9,115.3 Z" fill="#fff" stroke="#000" stroke-width="0.01"/>
<path d="M357.6,106.2 L356.3,103.9 L355.7,108.8 L357.0,110.9 Z" fill="#fff" stroke="#000" stroke-width="0.01"/>
<path d="M354.9,101.7 L353.2,99.5 L352.7,104.7 L354.3,106.7 Z" fill="#fff" stroke="#000" stroke-width="0.01"/>
<path d="M351.4,97.5 L349.4,95.4 L348.9,100.8 L350.9,102.7 Z" fill="#fff" stroke="#000" stroke-width="0.01"/>
<path d="M347.2,93.5 L344.8,91.6 L344.4,97.2 L346.8,99.0 Z" fill="#fff" stroke="#000" stroke-width="0.01"/>
<path d="M342.4,89.8 L339.6,88.1 L339.3,93.9 L342.0,95.5 Z" fill="#fff" stroke="#000" stroke-width="0.01"/>
<path d="M336.9,86.5 L333.9,84.9 L333.6,90.9 L336.6,92.4 Z" fill="#fff" stroke="#000" stroke-width="0.01"/>
<path d="M330.9,83.6 L327.6,82.2 L327.4,88.4 L330.6,89.6 Z" fill="#fff" stroke="#000" stroke-width="0.01"/>
<path d="M324.4,81.1 L320.9,80.0 L320.8,86.2 L324.2,87.3 Z" fill="#fff" stroke="#000" stroke-width="0.01"/>
<path d="M317.5,79.0 L313.9,78.2 L313.8,84.6 L317.4,85.4 Z" fill="#fff" stroke="#000" stroke-width="0.01"/>
<path d="M310.3,77.5 L306.6,76.9 L306.6,83.4 L310.3,83.9 Z" fill="#fff" stroke="#000" stroke-width="0.01"/>
<path d="M302.9,76.5 L299.1,76.1 L299.2,82.6 L303.0,82.9 Z" fill="#fff" stroke="#000" stroke-width="0.01"/>
<path d="M295.3,76.0 L291.5,75.9 L291.7,82.4 L295.5,82.5 Z" fill="#fff" stroke="#000" stroke-width="0.01"/>
<path d="M287.7,76.0 L283.9,76.2 L284.2,82.7 L288.0,82.5 Z" fill="#fff" stroke="#000" stroke-width="0.01"/>
<path d="M280.2,76.5 L276.4,77.0 L276.8,83.4 L280.5,83.0 Z" fill="#fff" stroke="#000" stroke-width="0.01"/>
<path d="M272.8,77.6 L269.1,78.3 L269.6,84.7 L273.2,84.0 Z" fill="#fff" stroke="#000" stroke-width="0.01"/>
<path d="M265.6,79.1 L262.1,80.1 L262.6,86.4 L266.1,85.4 Z" fill="#fff" stroke="#000" stroke-width="0.01"/>
<path d="M258.7,81.2 L255.4,82.4 L256.0,88.5 L259.3,87.4 Z" fill="#fff" stroke="#000" stroke-width="0.01"/>
<path d="M252.3,83.7 L249.2,85.1 L249.9,91.1 L252.9,89.7 Z" fill="#fff" stroke="#000" stroke-width="0.01"/>
<path d="M246.3,86.6 L243.4,88.3 L244.2,94.1 L247.0,92.5 Z" fill="#fff" stroke="#000" stroke-width="0.01"/>
<path d="M240.8,90.0 L238.3,91.8 L239.1,97.4 L241.6,95.6 Z" fill="#fff" stroke="#000" stroke-width="0.01"/>
<path d="M236.0,93.6 L233.8,95.6 L234.7,101.0 L236.9,99.1 Z" fill="#fff" stroke="#000" stroke-width="0.01"/>
<path d="M231.9,97.7 L230.0,99.8 L230.9,104.9 L232.8,102.9 Z" fill="#fff" stroke="#000" stroke-width="0.01"/>
<path d="M228.4,101.9 L227.0,104.2 L227.9,109.0 L229.4,106.9 Z" fill="#fff" stroke="#000" stroke-width="0.01"/>
<path d="M225.8,106.4 L224.7,108.7 L225.7,113.3 L226.7,111.1 Z" fill="#fff" stroke="#000" stroke-width="0.01"/>
<path d="M225.0,122.0 C227.5,119.3 234.7,109.9 240.0,106.0 C245.3,102.1 251.2,100.5 257.0,98.6 C262.8,96.7 268.8,95.3 275.0,94.5 C281.2,93.7 287.7,93.6 294.0,93.6 C300.3,93.6 306.8,94.0 313.0,94.6 C319.2,95.2 325.3,95.9 331.0,97.3 C336.7,98.7 342.5,100.5 347.0,103.0 C351.5,105.5 355.3,108.8 358.0,112.0 C360.7,115.2 362.2,120.3 363.0,122.0" fill="none" stroke="#000" stroke-width="2.28"/>
<path d="M230.0,124.5 C232.2,123.4 238.5,119.7 243.0,118.0 C247.5,116.3 251.7,115.6 257.0,114.6 C262.3,113.6 268.8,112.6 275.0,112.0 C281.2,111.4 287.7,111.0 294.0,111.0 C300.3,111.0 306.8,111.4 313.0,112.0 C319.2,112.6 326.0,113.4 331.0,114.6 C336.0,115.8 339.7,116.9 343.0,119.0 C346.3,121.1 349.7,125.7 351.0,127.0" fill="none" stroke="#000" stroke-width="2.04"/>
<path d="M234.8,134.0 C236.5,133.0 241.3,129.6 245.0,128.0 C248.7,126.4 252.0,125.4 257.0,124.5 C262.0,123.6 268.8,122.9 275.0,122.5 C281.2,122.1 287.7,122.0 294.0,122.0 C300.3,122.0 306.8,121.9 313.0,122.5 C319.2,123.1 326.0,123.8 331.0,125.7 C336.0,127.6 341.0,132.6 343.0,134.0" fill="none" stroke="#000" stroke-width="1.80"/>
<path d="M244.7,141.7 C246.4,140.2 250.9,135.3 255.0,133.0 C259.1,130.7 262.5,129.2 269.0,128.0 C275.5,126.8 284.9,125.5 294.0,125.7 C303.1,125.9 316.9,128.0 323.6,129.4 C330.3,130.8 331.1,131.9 334.0,134.0 C336.9,136.1 339.8,140.4 341.0,141.7" fill="none" stroke="#000" stroke-width="3.00"/>
<path d="M252.0,146.0 C254.8,143.7 262.0,134.8 269.0,132.0 C276.0,129.2 284.9,129.3 294.0,129.4 C303.1,129.5 316.3,130.2 323.6,132.5 C330.9,134.8 335.6,141.2 338.0,143.0" fill="none" stroke="#000" stroke-width="1.56"/>
<path d="M252.0,150.4 C255.0,148.8 263.0,143.3 270.0,141.0 C277.0,138.7 286.5,137.1 294.0,136.8 C301.5,136.5 309.7,137.8 315.0,139.0 C320.3,140.2 322.5,142.3 326.0,144.0 C329.5,145.7 334.3,148.2 336.0,149.0" fill="none" stroke="#000" stroke-width="2.28"/>
<path d="M219.5,108.0 C219.7,109.5 220.1,114.2 220.8,117.0 C221.6,119.8 221.0,120.4 224.0,124.5 C227.0,128.6 232.2,136.5 239.0,141.6 C245.8,146.7 255.8,152.3 265.0,155.2 C274.2,158.1 284.0,158.9 294.0,159.0 C304.0,159.1 315.7,158.2 325.0,156.0 C334.3,153.8 343.8,150.0 350.0,146.0 C356.2,142.0 359.7,136.7 362.0,132.0 C364.3,127.3 363.7,120.3 364.0,118.0" fill="none" stroke="#000" stroke-width="3.24"/>
<path d="M181.0,23.3 L221.0,60.0" fill="none" stroke="#000" stroke-width="1.56"/>
<path d="M135.3,104.2 L212.5,111.3" fill="none" stroke="#000" stroke-width="1.56"/>
<circle cx="212.5" cy="111.3" r="2.6" fill="#000"/>
<circle cx="335.8" cy="78" r="4.6" fill="#fff"/>
<path d="M423.7,47.7 L335.8,78.0" fill="none" stroke="#000" stroke-width="1.56"/>
<circle cx="335.8" cy="78" r="2.4" fill="#000"/>
</svg>
<div class="t lab" style="left:139.9px;top:10.4px">(A)</div>
<div class="t lab" style="left:94.4px;top:92.8px;font-size:22.5px;letter-spacing:5.2px">(B)</div>
<div class="t lab" style="left:426.6px;top:34px;font-size:22.5px;letter-spacing:3.9px">(C)</div>
<div class="t" style="left:490px;top:319px;font-size:20px;letter-spacing:-0.5px;transform:scaleX(1.03)">B3M1163C</div>
<div class="t leg" style="left:3.7px;top:369.6px;transform:scaleX(1.10)">(A)</div>
<div class="t leg" style="left:66.4px;top:369.6px;transform:scaleX(1.085)">Snap</div>
<div class="t leg" style="left:131.75px;top:369.6px;transform:scaleX(1.125)">ring</div>
<div class="t leg" style="left:4.8px;top:402.6px;transform:scaleX(1.057)">(B)</div>
<div class="t leg" style="left:66.1px;top:402.6px;transform:scaleX(1.03)">Plate</div>
<div class="t leg" style="left:4px;top:434.8px;transform:scaleX(1.09)">(C)</div>
<div class="t leg" style="left:67px;top:434.8px;transform:scaleX(1.01)">One-way</div>
<div class="t leg" style="left:173.7px;top:434.8px;transform:scaleX(1.04)">clutch</div>
</body></html>
